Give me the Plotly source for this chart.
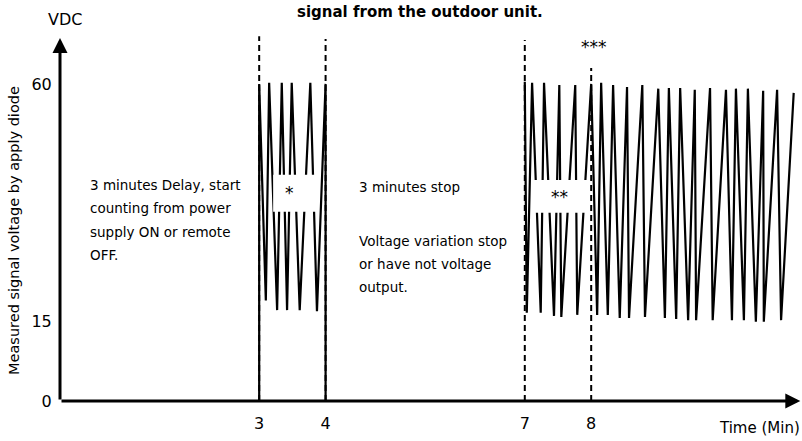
import plotly.graph_objects as go

FONT = "DejaVu Sans"

# ---- data (time in minutes, voltage in VDC) ----
# Segment A: 3 .. 4 min pulsing
a_peak_t = [3.00, 3.15, 3.34, 3.49, 3.77, 4.00]
a_peak_v = [60.0, 60.2, 60.2, 60.2, 60.2, 60.0]
a_trough_t = [3.10, 3.27, 3.42, 3.61, 3.87]
a_trough_v = [19.0, 17.2, 17.2, 17.2, 17.0]

# Segment B: from 7 min on
b_peak_t = [7.00, 7.11, 7.29, 7.52, 7.76, 8.00, 8.15, 8.33, 8.54, 8.77, 9.01,
            9.17, 9.34, 9.56, 9.79, 10.03, 10.18, 10.36, 10.59, 10.80, 11.05]
b_peak_v = [60.4, 60.2, 60.2, 59.8, 59.8, 60.0, 60.2, 59.8, 59.4, 59.8, 59.1,
            59.2, 59.2, 58.9, 59.2, 58.9, 59.1, 59.1, 58.7, 58.9, 58.3]
b_trough_t = [7.03, 7.24, 7.44, 7.55, 7.79, 8.09, 8.25, 8.43, 8.57, 8.81,
              9.11, 9.28, 9.46, 9.58, 9.83, 10.12, 10.30, 10.48, 10.60, 10.86]
b_trough_v = [16.7, 16.7, 16.1, 15.9, 16.3, 16.3, 16.3, 15.7, 15.7, 15.9,
              15.7, 15.5, 15.3, 15.3, 15.3, 15.3, 15.3, 15.0, 15.0, 15.3]

# dashed time markers
marker_t = [3, 4, 7, 8]
marker_top = [69.0, 68.5, 68.3, 63.0]

x_ticks = [3, 4, 7, 8]
x_ticktext = ["3", "4", "7", "8"]
y_ticks = [0, 15, 60]
y_ticktext = ["0", "15", "60"]

X_MAX = 11.175
Y_MAX = 70.2


def zigzag(pt, pv, tt, tv):
    xs, ys = [], []
    for i in range(len(pt)):
        xs.append(pt[i]); ys.append(pv[i])
        if i < len(tt):
            xs.append(tt[i]); ys.append(tv[i])
    return xs, ys


ax_, ay_ = zigzag(a_peak_t, a_peak_v, a_trough_t, a_trough_v)
ax_ = [a_peak_t[0]] + ax_ + [a_peak_t[-1]]
ay_ = [0] + ay_ + [0]
bx_, by_ = zigzag(b_peak_t, b_peak_v, b_trough_t, b_trough_v)

mx, my = [], []
for t, top in zip(marker_t, marker_top):
    mx += [t, t, None]
    my += [0, top, None]

fig = go.Figure()
fig.add_trace(go.Scatter(x=mx, y=my, mode="lines",
                         line=dict(color="black", width=2, dash="6px,4px"),
                         hoverinfo="skip", cliponaxis=False))
fig.add_trace(go.Scatter(x=ax_, y=ay_, mode="lines",
                         line=dict(color="black", width=2.2),
                         hoverinfo="skip", cliponaxis=False))
fig.add_trace(go.Scatter(x=bx_, y=by_, mode="lines",
                         line=dict(color="black", width=2.2),
                         hoverinfo="skip", cliponaxis=False))

# white label boxes over the pulses
fig.add_shape(type="rect", x0=3.21, x1=3.89, y0=35.8, y1=42.8,
              fillcolor="white", line=dict(width=0), layer="above")
fig.add_shape(type="rect", x0=7.11, x1=7.98, y0=35.6, y1=41.8,
              fillcolor="white", line=dict(width=0), layer="above")

ann = []
# axes arrows
ann.append(dict(x=11.15, y=0, ax=0, ay=0, xref="x", yref="y", axref="x", ayref="y",
                text="", showarrow=True, arrowhead=2, arrowsize=1, arrowwidth=3,
                arrowcolor="black"))
ann.append(dict(x=0, y=68.7, ax=0, ay=0, xref="x", yref="y", axref="x", ayref="y",
                text="", showarrow=True, arrowhead=2, arrowsize=1, arrowwidth=3,
                arrowcolor="black"))


def txt(x, y, s, size=13.5, xanchor="left", ref="data", **kw):
    d = dict(x=x, y=y, text=s, showarrow=False,
             xanchor=xanchor, yanchor="middle",
             font=dict(family=FONT, size=size, color="black"))
    if ref == "data":
        d.update(xref="x", yref="y")
    else:
        d.update(xref="paper", yref="paper")
    d.update(kw)
    ann.append(d)


txt(0.485, 1.0485, "<b>signal from the outdoor unit.</b>", size=15,
    xanchor="center", ref="paper")
txt(0.0067, 1.0296, "VDC", size=16, xanchor="center", ref="paper")
txt(-0.062, 0.461, "Measured signal voltage by apply diode", size=14.5,
    xanchor="center", ref="paper", textangle=-90)
txt(0.885, -0.0728, "Time (Min)", size=15, ref="paper")

txt(0.42, 40.9, "3 minutes Delay, start")
txt(0.42, 36.5, "counting from power")
txt(0.42, 32.0, "supply ON or remote")
txt(0.42, 27.6, "OFF.")

txt(4.47, 40.5, "3 minutes stop")
txt(4.47, 30.3, "Voltage variation stop")
txt(4.47, 25.9, "or have not voltage")
txt(4.47, 21.6, "output.")

txt(3.46, 39.4, "*", size=17, xanchor="center")
txt(7.53, 38.6, "**", size=17, xanchor="center")
txt(8.04, 67.0, "***", size=17, xanchor="center")

fig.update_layout(
    width=802, height=441,
    margin=dict(l=60, r=0, t=30, b=40),
    paper_bgcolor="white", plot_bgcolor="white",
    showlegend=False,
    annotations=ann,
    font=dict(family=FONT, color="black"),
    xaxis=dict(range=[0, X_MAX], showgrid=False, zeroline=False, showline=False,
               automargin=False,
               tickvals=x_ticks, ticktext=x_ticktext, ticks="outside",
               ticklen=8, tickcolor="rgba(0,0,0,0)",
               tickfont=dict(family=FONT, size=16, color="black")),
    yaxis=dict(range=[0, Y_MAX], showgrid=False, zeroline=False, showline=False,
               automargin=False,
               tickvals=y_ticks, ticktext=y_ticktext, ticks="outside",
               ticklen=4, tickcolor="rgba(0,0,0,0)",
               tickfont=dict(family=FONT, size=16, color="black")),
)

fig.write_html("out.html",
               config={"displayModeBar": False},
               post_script="document.body.style.margin='0';"
                           "document.body.style.overflow='hidden';")
